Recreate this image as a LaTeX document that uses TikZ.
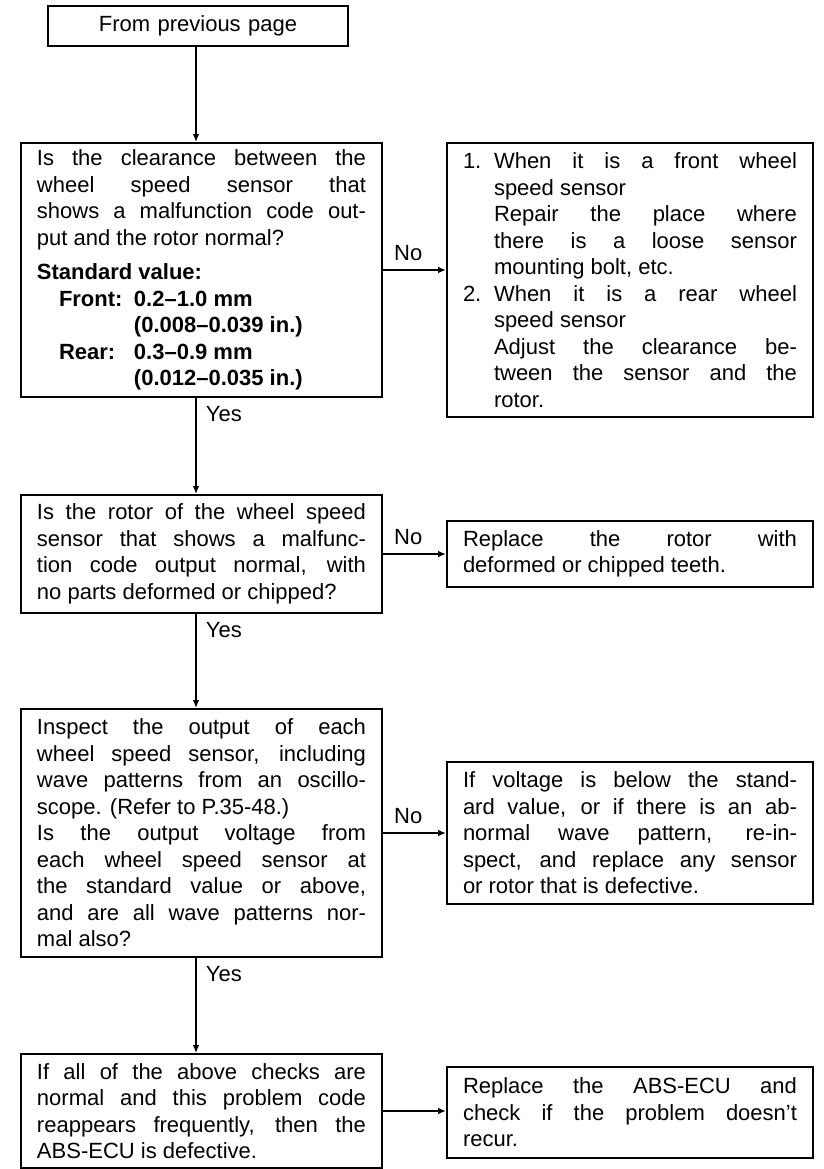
\documentclass[tikz,border=0pt]{standalone}
\usepackage{fontspec}
\setmainfont{Liberation Sans}
\usetikzlibrary{arrows.meta}
\newcommand{\txtfont}{\fontsize{11pt}{13.25pt}\selectfont}
\newcommand{\itemnum}[1]{\leavevmode\llap{\makebox[15.5pt][l]{#1}}}
\tikzset{
    box/.style={draw, line width=1pt, align=justify, anchor=north west,
        inner xsep=8pt, inner ysep=0pt, text width=164.5pt, font=\txtfont,
        execute at begin node={\tolerance=10000\hbadness=10000\hyphenpenalty=10000\exhyphenpenalty=10000\parindent=0pt}},
    rbox/.style={box, text width=167pt},
    flow/.style={line width=0.9pt, -{Latex[length=4pt,width=3.4pt]}},
    nolbl/.style={above, pos=0.4, inner sep=4pt, font=\txtfont},
    yeslbl/.style={anchor=north west, pos=0, inner sep=1pt, xshift=3.5pt, yshift=-2.5pt, font=\txtfont}
}
\begin{document}
\begin{tikzpicture}[x=0.5pt, y=-0.5pt]
    \useasboundingbox (0,0) rectangle (824,1169);
    \coordinate (spine) at (196,0);

    % Left column: checks
    \node[box, align=center, text width=134pt, minimum height=20pt] (start) at (47,5) {From previous page};

    \node[box, minimum height=127pt] (chkclear) at (20,142) {Is the clearance between the\linebreak
        wheel speed sensor that\linebreak
        shows a malfunction code out-\linebreak
        put and the rotor normal?\\[4pt]
        \textbf{Standard value:}\\
        \hspace*{11pt}\makebox[37.5pt][l]{\textbf{Front:}}\textbf{0.2--1.0 mm}\\
        \hspace*{48.5pt}\textbf{(0.008--0.039 in.)}\\
        \hspace*{11pt}\makebox[37.5pt][l]{\textbf{Rear:}}\textbf{0.3--0.9 mm}\\
        \hspace*{48.5pt}\textbf{(0.012--0.035 in.)}};

    \node[box, minimum height=59pt] (chkrotor) at (20,494) {Is the rotor of the wheel speed\linebreak
        sensor that shows a malfunc-\linebreak
        tion code output normal, with\linebreak
        no parts deformed or chipped?};

    \node[box, minimum height=124pt] (chkoutput) at (20,708) {Inspect the output of each\linebreak
        wheel speed sensor, including\linebreak
        wave patterns from an oscillo-\linebreak
        scope. (Refer to P.35-48.)\\
        Is the output voltage from\linebreak
        each wheel speed sensor at\linebreak
        the standard value or above,\linebreak
        and are all wave patterns nor-\linebreak
        mal also?};

    \node[box, minimum height=57pt] (chkecu) at (20,1053) {If all of the above checks are\linebreak
        normal and this problem code\linebreak
        reappears frequently, then the\linebreak
        ABS-ECU is defective.};

    % Right column: repairs
    \node[rbox, minimum height=137pt] (fixclear) at (446,142) {\parbox{167pt}{\leftskip=15.5pt
        \itemnum{1.}When it is a front wheel\linebreak
        speed sensor\\
        Repair the place where\linebreak
        there is a loose sensor\linebreak
        mounting bolt, etc.\\
        \itemnum{2.}When it is a rear wheel\linebreak
        speed sensor\\
        Adjust the clearance be-\linebreak
        tween the sensor and the\linebreak
        rotor.}};

    \node[rbox, minimum height=33pt] (fixrotor) at (446,520) {Replace the rotor with\linebreak
        deformed or chipped teeth.};

    \node[rbox, minimum height=71pt] (fixsensor) at (446,761) {If voltage is below the stand-\linebreak
        ard value, or if there is an ab-\linebreak
        normal wave pattern, re-in-\linebreak
        spect, and replace any sensor\linebreak
        or rotor that is defective.};

    \node[rbox, minimum height=45.5pt] (fixecu) at (446,1066) {Replace the ABS-ECU and\linebreak
        check if the problem doesn't\linebreak
        recur.};

    % Yes path
    \draw[flow] (start.south -| spine) -- (chkclear.north -| spine);
    \draw[flow] (chkclear.south -| spine) -- node[yeslbl] {Yes} (chkrotor.north -| spine);
    \draw[flow] (chkrotor.south -| spine) -- node[yeslbl] {Yes} (chkoutput.north -| spine);
    \draw[flow] (chkoutput.south -| spine) -- node[yeslbl] {Yes} (chkecu.north -| spine);

    % No branches
    \draw[flow] (chkclear.east) -- node[nolbl] {No} (chkclear.east -| fixclear.west);
    \draw[flow] (chkrotor.east) -- node[nolbl] {No} (chkrotor.east -| fixrotor.west);
    \draw[flow] (chkoutput.east) -- node[nolbl] {No} (chkoutput.east -| fixsensor.west);
    \draw[flow] (chkecu.east) -- (chkecu.east -| fixecu.west);
\end{tikzpicture}
\end{document}
